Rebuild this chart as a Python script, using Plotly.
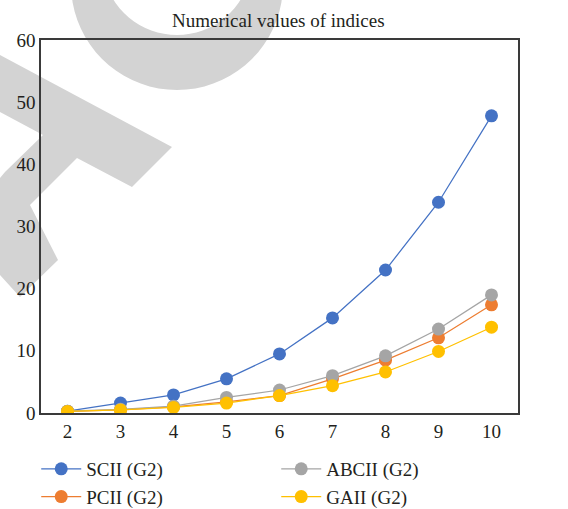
import plotly.graph_objects as go
import math

W, H = 568, 509
ML, MR, MT, MB = 41, 50, 40, 96

categories = ["2", "3", "4", "5", "6", "7", "8", "9", "10"]
scii = [0.3, 1.6, 2.9, 5.5, 9.5, 15.3, 23.0, 33.9, 47.8]
pcii = [0.25, 0.5, 1.0, 1.8, 2.8, 5.5, 8.5, 12.1, 17.4]
abcii = [0.3, 0.6, 1.1, 2.5, 3.7, 6.0, 9.2, 13.5, 19.0]
gaii = [0.25, 0.5, 0.9, 1.6, 2.8, 4.4, 6.6, 9.9, 13.8]

series = [
    ("SCII (G2)", scii, "#4472C4", 1),
    ("PCII (G2)", pcii, "#ED7D31", 3),
    ("ABCII (G2)", abcii, "#A5A5A5", 2),
    ("GAII (G2)", gaii, "#FFC000", 4),
]

FONT = "Liberation Serif, Times New Roman, serif"

fig = go.Figure()
for name, vals, color, rank in series:
    fig.add_trace(go.Scatter(
        x=categories, y=vals, name=name, mode="lines+markers",
        line=dict(color=color, width=1.25),
        marker=dict(color=color, size=13),
        legendrank=rank,
    ))

# watermark shapes (pixel -> paper conversion)
PW = W - ML - MR
PH = H - MT - MB
def px(x):
    return (x - ML) / PW
def py(y):
    return 1 - (y - MT) / PH

def circle_path(cx, cy, r, n=72):
    pts = []
    for i in range(n):
        a = 2 * math.pi * i / n
        pts.append((px(cx + r * math.cos(a)), py(cy + r * math.sin(a))))
    return "M " + " L ".join(f"{a:.5f},{b:.5f}" for a, b in pts) + " Z"

ring = circle_path(177, -16, 106) + " " + circle_path(177, -40, 75)
poly_px = [(0, 55), (172, 147), (132, 187), (77, 158), (30, 205), (58, 260),
           (20, 297), (0, 275), (0, 178), (5, 172), (43, 135), (0, 112)]
poly = "M " + " L ".join(f"{px(a):.5f},{py(b):.5f}" for a, b in poly_px) + " Z"
wm = "#D3D3D3"
shapes = [
    dict(type="path", xref="paper", yref="paper", path=ring, fillcolor=wm,
         line=dict(width=0), layer="below", fillrule="evenodd"),
    dict(type="path", xref="paper", yref="paper", path=poly, fillcolor=wm,
         line=dict(width=0), layer="below"),
]

fig.update_layout(
    width=W, height=H,
    margin=dict(l=ML, r=MR, t=MT, b=MB, autoexpand=False),
    paper_bgcolor="white", plot_bgcolor="rgba(0,0,0,0)",
    font=dict(family=FONT, size=19, color="#231F20"),
    title=dict(text="Numerical values of indices", x=0.49, xanchor="center",
               y=1 - 20 / H, yanchor="middle", font=dict(size=19)),
    shapes=shapes,
    showlegend=True,
    legend=dict(orientation="h", x=-0.01, xanchor="left", y=py(450), yanchor="top",
                entrywidth=185, entrywidthmode="pixels", itemwidth=40,
                font=dict(size=19), bgcolor="rgba(0,0,0,0)"),
    xaxis=dict(type="category", range=[-0.5, 8.5], showgrid=False,
               showline=True, linecolor="#3a3a3a", linewidth=1.5, mirror=True,
               ticks="", zeroline=False),
    yaxis=dict(range=[0, 60], dtick=10, showgrid=False, showline=True,
               linecolor="#3a3a3a", linewidth=1.5, mirror=True, ticks="",
               zeroline=False),
)

fig.write_html("out.html")
